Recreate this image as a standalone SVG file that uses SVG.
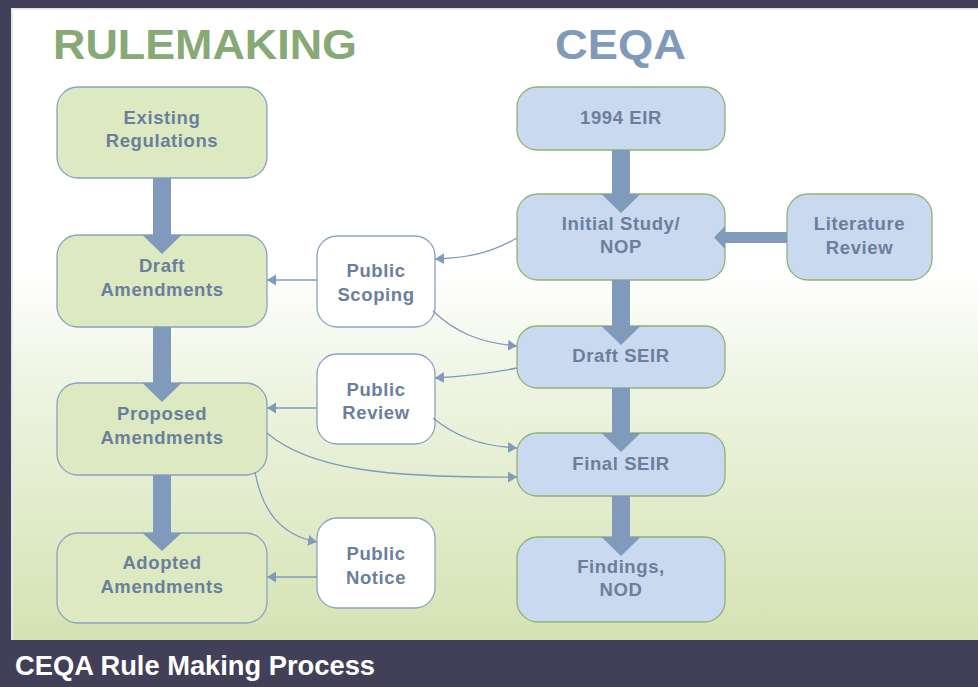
<svg xmlns="http://www.w3.org/2000/svg" width="978" height="687" viewBox="0 0 978 687">
  <defs>
    <linearGradient id="bg" x1="0" y1="0" x2="0" y2="1" gradientUnits="objectBoundingBox">
      <stop offset="0" stop-color="#ffffff"/>
      <stop offset="0.42" stop-color="#ffffff"/>
      <stop offset="0.6" stop-color="#eef4e2"/>
      <stop offset="1" stop-color="#d4e3b3"/>
    </linearGradient>
    <marker id="ah" viewBox="0 0 10 12" refX="10" refY="6" markerWidth="9" markerHeight="12" markerUnits="userSpaceOnUse" orient="auto">
      <path d="M0,0 L10,6 L0,12 z" fill="#7f9aba"/>
    </marker>
    <style>
      .rm { fill: #dce9c1; stroke: #8aa1c2; stroke-width: 1.3; }
      .cq { fill: #c9d9ef; stroke: #8fb372; stroke-width: 1.3; }
      .pb { fill: #ffffff; stroke: #8aa1c2; stroke-width: 1.3; }
      .lbl { font-family: "Liberation Sans", Arial, sans-serif; font-weight: bold; font-size: 18.5px; fill: #6b7f9c; text-anchor: middle; letter-spacing: 0.6px; }
      .thick { fill: #7f9aba; }
      .thin { fill: none; stroke: #7f9aba; stroke-width: 1.3; marker-end: url(#ah); }
      .title { font-family: "Liberation Sans", Arial, sans-serif; font-weight: 900; font-size: 43px; }
    </style>
  </defs>

  <!-- background -->
  <rect x="0" y="0" width="978" height="640" fill="url(#bg)"/>
  <rect x="0" y="0" width="978" height="8" fill="#423f58"/>
  <rect x="0" y="8" width="978" height="1.5" fill="#e2e2ea"/>
  <rect x="0" y="0" width="11" height="687" fill="#423f58"/>
  <rect x="11" y="9" width="2" height="631" fill="#e6e6ee"/>
  <rect x="0" y="640" width="978" height="47" fill="#423f58"/>

  <!-- titles -->
  <text class="title" x="53" y="59" fill="#86a975" textLength="304" lengthAdjust="spacingAndGlyphs">RULEMAKING</text>
  <text class="title" x="555" y="59" fill="#7f9aba" textLength="131" lengthAdjust="spacingAndGlyphs">CEQA</text>
  <text x="15" y="675" font-family="Liberation Sans, Arial, sans-serif" font-weight="bold" font-size="28" fill="#ffffff" textLength="360" lengthAdjust="spacingAndGlyphs">CEQA Rule Making Process</text>

  <!-- rulemaking nodes -->
  <g id="existing-regulations">
    <rect class="rm" x="57" y="87" width="210" height="91" rx="21"/>
    <text class="lbl" x="162" y="124">Existing</text>
    <text class="lbl" x="162" y="147">Regulations</text>
  </g>
  <g id="draft-amendments">
    <rect class="rm" x="57" y="235" width="210" height="92" rx="21"/>
    <text class="lbl" x="162" y="272">Draft</text>
    <text class="lbl" x="162" y="296">Amendments</text>
  </g>
  <g id="proposed-amendments">
    <rect class="rm" x="57" y="383" width="210" height="92" rx="21"/>
    <text class="lbl" x="162" y="420">Proposed</text>
    <text class="lbl" x="162" y="444">Amendments</text>
  </g>
  <g id="adopted-amendments">
    <rect class="rm" x="57" y="533" width="210" height="90" rx="21"/>
    <text class="lbl" x="162" y="569">Adopted</text>
    <text class="lbl" x="162" y="593">Amendments</text>
  </g>

  <!-- public nodes -->
  <g id="public-scoping">
    <rect class="pb" x="317" y="236" width="118" height="91" rx="20"/>
    <text class="lbl" x="376" y="277">Public</text>
    <text class="lbl" x="376" y="301">Scoping</text>
  </g>
  <g id="public-review">
    <rect class="pb" x="317" y="354" width="118" height="90" rx="20"/>
    <text class="lbl" x="376" y="396">Public</text>
    <text class="lbl" x="376" y="419">Review</text>
  </g>
  <g id="public-notice">
    <rect class="pb" x="317" y="518" width="118" height="90" rx="20"/>
    <text class="lbl" x="376" y="560">Public</text>
    <text class="lbl" x="376" y="584">Notice</text>
  </g>

  <!-- CEQA nodes -->
  <g id="eir-1994">
    <rect class="cq" x="517" y="87" width="208" height="63" rx="20"/>
    <text class="lbl" x="621" y="124">1994 EIR</text>
  </g>
  <g id="initial-study">
    <rect class="cq" x="517" y="194" width="208" height="86" rx="21"/>
    <text class="lbl" x="621" y="230">Initial Study/</text>
    <text class="lbl" x="621" y="253">NOP</text>
  </g>
  <g id="literature-review">
    <rect class="cq" x="787" y="194" width="145" height="86" rx="21"/>
    <text class="lbl" x="859.5" y="230">Literature</text>
    <text class="lbl" x="859.5" y="254">Review</text>
  </g>
  <g id="draft-seir">
    <rect class="cq" x="517" y="326" width="208" height="62" rx="20"/>
    <text class="lbl" x="621" y="362">Draft SEIR</text>
  </g>
  <g id="final-seir">
    <rect class="cq" x="517" y="433" width="208" height="63" rx="20"/>
    <text class="lbl" x="621" y="470">Final SEIR</text>
  </g>
  <g id="findings-nod">
    <rect class="cq" x="517" y="537" width="208" height="85" rx="21"/>
    <text class="lbl" x="621" y="573">Findings,</text>
    <text class="lbl" x="621" y="596">NOD</text>
  </g>

  <!-- connectors -->
  <g id="connectors">
    <!-- thick flow arrows -->
    <polygon class="thick" points="153,178 171,178 171,235 181.5,235 162,254 142.5,235 153,235"/>
    <polygon class="thick" points="153,327 171,327 171,383 181.5,383 162,402 142.5,383 153,383"/>
    <polygon class="thick" points="153,475 171,475 171,533 181.5,533 162,551 142.5,533 153,533"/>
    <polygon class="thick" points="612,150 630,150 630,194 640.5,194 621,213 601.5,194 612,194"/>
    <polygon class="thick" points="612,280 630,280 630,326 640.5,326 621,345 601.5,326 612,326"/>
    <polygon class="thick" points="612,388 630,388 630,433 640.5,433 621,452 601.5,433 612,433"/>
    <polygon class="thick" points="612,496 630,496 630,537 640.5,537 621,556 601.5,537 612,537"/>
    <polygon class="thick" points="787,232 787,243 725,243 725,249 714,237.5 725,226 725,232"/>
    <!-- thin connectors -->
    <path class="thin" d="M317,280 H267"/>
    <path class="thin" d="M317,408 H267"/>
    <path class="thin" d="M317,577 H267"/>
    <path class="thin" d="M517,238 C492,252 470,258 435,259"/>
    <path class="thin" d="M433,311 C455,332 480,343 517,346"/>
    <path class="thin" d="M517,368 C492,373 470,376 435,378"/>
    <path class="thin" d="M433,418 C455,436 480,446 517,448"/>
    <path class="thin" d="M267,433 C310,470 390,478 517,477"/>
    <path class="thin" d="M255,472 C262,510 280,535 317,542"/>
  </g>
</svg>
